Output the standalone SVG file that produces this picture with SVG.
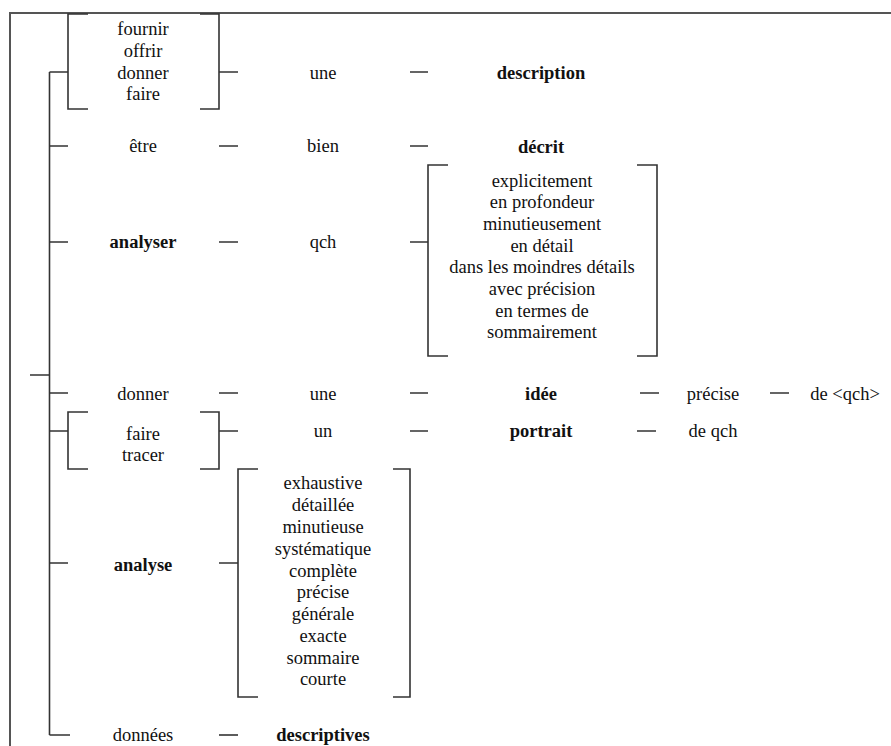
<svg xmlns="http://www.w3.org/2000/svg" width="891" height="746" viewBox="0 0 891 746">
<style>
.t{font-family:"Liberation Serif","Times New Roman",serif;font-size:18.5px;fill:#111;text-anchor:middle}
.b{font-weight:bold}
.l{stroke:#333;stroke-width:1.6;fill:none}
.f{stroke:#555;stroke-width:2;fill:none}
</style>
<rect width="891" height="746" fill="#fff"/>
<g id="frame"><path class="f" d="M10,746 V13 H891"/></g>
<g id="connectors">
<path class="l" d="M49.5,72 V735 M30,375 H49.5"/>
<path class="l" d="M49.5,72 H68 M49.5,146 H68 M49.5,242 H68 M49.5,393 H68 M49.5,431 H68 M49.5,563 H68 M49.5,735 H70"/>
<path class="l" d="M88,14 H68 V109 H88 M200,14 H219 V109 H200 M219,72 H238"/>
<path class="l" d="M219,146 H238 M410,146 H428 M410,72 H428"/>
<path class="l" d="M219,242 H238 M410,242 H428 M448,165 H428 V356 H448 M637,165 H657 V356 H637"/>
<path class="l" d="M219,393 H238 M410,393 H428 M640,393 H659 M770,393 H789"/>
<path class="l" d="M88,412 H68 V469 H88 M200,412 H219 V469 H200 M219,431 H238 M410,431 H428 M637,431 H656"/>
<path class="l" d="M219,563 H238 M258,469 H238 V697 H258 M393,469 H410 V697 H393"/>
<path class="l" d="M219,735 H238"/>
</g>
<g id="n-verbs1"><text class="t" x="143" y="35">fournir</text><text class="t" x="143" y="57">offrir</text><text class="t" x="143" y="79">donner</text><text class="t" x="143" y="100">faire</text></g>
<g id="n-une1"><text class="t" x="323" y="79">une</text></g>
<g id="n-description"><text class="t b" x="541" y="79">description</text></g>
<g id="n-etre"><text class="t" x="143" y="152">être</text></g>
<g id="n-bien"><text class="t" x="323" y="152">bien</text></g>
<g id="n-decrit"><text class="t b" x="541" y="153">décrit</text></g>
<g id="n-analyser"><text class="t b" x="143" y="248">analyser</text></g>
<g id="n-qch"><text class="t" x="323" y="248">qch</text></g>
<g id="n-adverbs"><text class="t" x="542" y="187">explicitement</text><text class="t" x="542" y="208">en profondeur</text><text class="t" x="542" y="230">minutieusement</text><text class="t" x="542" y="252">en détail</text><text class="t" x="542" y="273">dans les moindres détails</text><text class="t" x="542" y="295">avec précision</text><text class="t" x="542" y="317">en termes de</text><text class="t" x="542" y="338">sommairement</text></g>
<g id="n-donner"><text class="t" x="143" y="400">donner</text></g>
<g id="n-une2"><text class="t" x="323" y="400">une</text></g>
<g id="n-idee"><text class="t b" x="541" y="400">idée</text></g>
<g id="n-precise"><text class="t" x="713" y="400">précise</text></g>
<g id="n-deqch1"><text class="t" x="845" y="400">de &lt;qch&gt;</text></g>
<g id="n-verbs2"><text class="t" x="143" y="440">faire</text><text class="t" x="143" y="461">tracer</text></g>
<g id="n-un"><text class="t" x="323" y="437">un</text></g>
<g id="n-portrait"><text class="t b" x="541" y="437">portrait</text></g>
<g id="n-deqch2"><text class="t" x="713" y="437">de qch</text></g>
<g id="n-analyse"><text class="t b" x="143" y="571">analyse</text></g>
<g id="n-adjectives"><text class="t" x="323" y="489">exhaustive</text><text class="t" x="323" y="511">détaillée</text><text class="t" x="323" y="533">minutieuse</text><text class="t" x="323" y="555">systématique</text><text class="t" x="323" y="577">complète</text><text class="t" x="323" y="598">précise</text><text class="t" x="323" y="620">générale</text><text class="t" x="323" y="642">exacte</text><text class="t" x="323" y="664">sommaire</text><text class="t" x="323" y="685">courte</text></g>
<g id="n-donnees"><text class="t" x="143" y="741">données</text></g>
<g id="n-descriptives"><text class="t b" x="323" y="741">descriptives</text></g>
</svg>
